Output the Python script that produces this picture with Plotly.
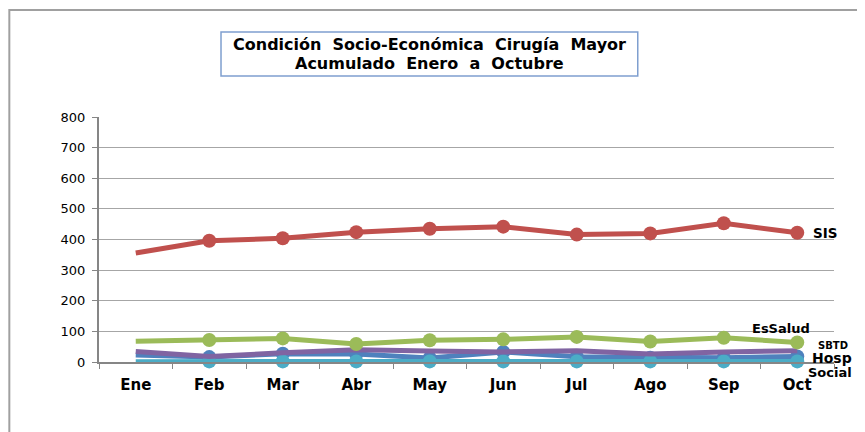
import plotly.graph_objects as go

# datos
meses = ["Ene", "Feb", "Mar", "Abr", "May", "Jun", "Jul", "Ago", "Sep", "Oct"]
sis = [356, 396, 404, 424, 435, 442, 416, 420, 453, 422]
essalud = [68, 72, 77, 59, 71, 74, 82, 67, 79, 64]
sbtd = [34, 18, 30, 40, 36, 33, 37, 26, 33, 37]
hosp = [23, 16, 27, 26, 13, 33, 17, 14, 14, 18]
social = [1, 2, 2, 2, 2, 2, 2, 2, 2, 2]

colores = {
    "SIS": "#c0504d",
    "EsSalud": "#9bbb59",
    "SBTD": "#8064a2",
    "Hosp": "#4f81bd",
    "Social": "#4bacc6",
}

# Excel no dibuja marcador en el primer punto
tam = [0] + [14] * (len(meses) - 1)

fig = go.Figure()

series = [
    ("Hosp", hosp, True),
    ("Social", social, True),
    ("SBTD", sbtd, False),
    ("EsSalud", essalud, True),
    ("SIS", sis, True),
]
for nombre, valores, con_marcador in series:
    fig.add_trace(go.Scatter(
        x=meses, y=valores, name=nombre,
        mode="lines+markers" if con_marcador else "lines",
        line=dict(color=colores[nombre], width=5),
        marker=dict(size=tam, color=colores[nombre], opacity=1,
                    line=dict(width=0)),
        opacity=1,
        cliponaxis=False,
    ))

# etiquetas de las series a la derecha (y, desplazamientos en px)
etiquetas = [
    ("SIS", sis[-1], 14, 0, "left", 13.5),
    ("EsSalud", 108, -16, 0, "center", 13),
    ("SBTD", 55, 36, 0, "center", 10),
    ("Hosp", 13, 35, 0, "center", 14),
    ("Social", 2, 33, -11, "center", 13),
]
for texto, yv, dx, dy, anc, tf in etiquetas:
    fig.add_annotation(
        x="Oct", y=yv, xref="x", yref="y", text=texto, showarrow=False,
        xshift=dx, yshift=dy, xanchor=anc, yanchor="middle",
        font=dict(family="DejaVu Sans", size=tf, color="#000000", weight="bold"),
    )

# título en un recuadro
fig.add_shape(type="rect", xref="paper", yref="paper",
              x0=0.166, x1=0.733, y0=1.167, y1=1.347,
              line=dict(color="#7f9fcf", width=1.5), fillcolor="white")
titulo = ["Condición  Socio-Económica  Cirugía  Mayor", "Acumulado  Enero  a  Octubre"]
for linea, yp in zip(titulo, [1.294, 1.220]):
    fig.add_annotation(
        xref="paper", yref="paper", x=0.4497, y=yp, showarrow=False,
        xanchor="center", yanchor="middle", text=linea,
        font=dict(family="DejaVu Sans", size=16, color="#000000", weight="bold"),
    )

# marco exterior del gráfico
fig.add_shape(type="rect", xref="paper", yref="paper",
              x0=-0.122, x1=1.1, y0=-0.4, y1=1.4367,
              line=dict(color="#a0a0a0", width=2), layer="below")

# la página deja 8 px de margen, se descuentan aquí
fig.update_layout(
    width=857, height=424,
    margin=dict(l=91, r=31, t=109, b=70),
    paper_bgcolor="white", plot_bgcolor="white",
    showlegend=False,
    font=dict(family="DejaVu Sans", color="#000000"),
)
fig.update_xaxes(
    type="category", range=[-0.5, 9.5],
    showline=True, linecolor="#868686", linewidth=1.5,
    ticks="outside", tickson="boundaries", ticklen=5, tickcolor="#868686",
    showgrid=False, zeroline=False,
    tickfont=dict(family="DejaVu Sans", size=15, weight="bold"),
    ticklabelstandoff=8,
)
fig.update_yaxes(
    range=[0, 800], dtick=100,
    showline=True, linecolor="#868686", linewidth=2,
    ticks="outside", ticklen=5, tickcolor="#868686",
    showgrid=True, gridcolor="#a6a6a6", gridwidth=1, zeroline=False,
    tickfont=dict(family="DejaVu Sans", size=13),
    ticklabelstandoff=4,
)

fig.write_html("out.html")
